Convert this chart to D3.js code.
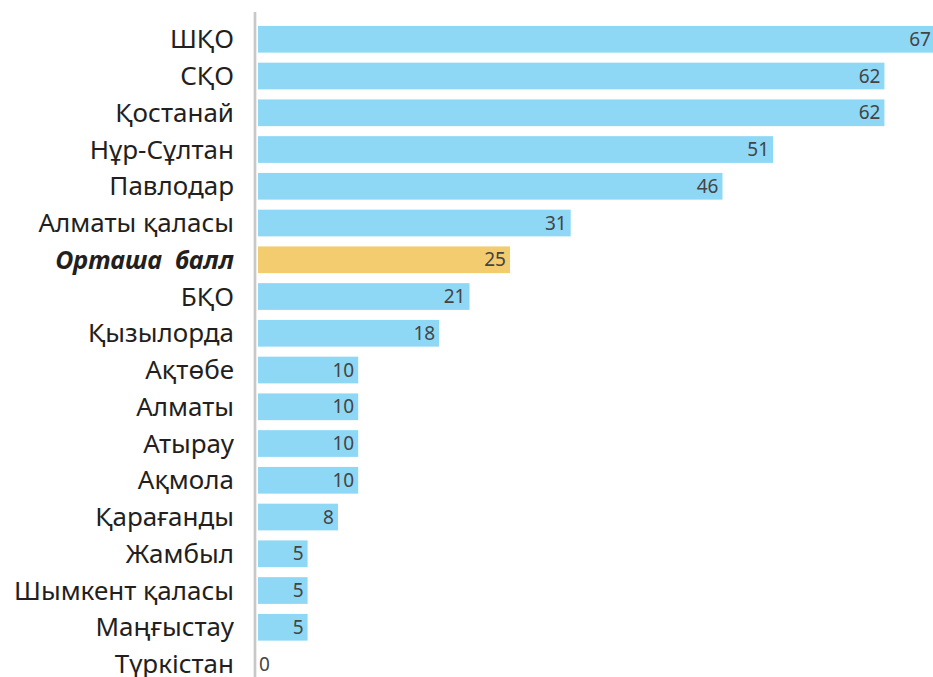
<!DOCTYPE html>
<html>
<head>
<meta charset="utf-8">
<script src="https://cdn.jsdelivr.net/npm/d3@7"></script>
<style>
  body { margin: 0; background: #fff; }
  .label { font-family: "Noto Sans", sans-serif; font-size: 26px; fill: #231f20; }
  .label--avg { font-weight: bold; font-style: italic; font-size: 25px; }
  .value { font-family: "Noto Sans", sans-serif; font-size: 19px; fill: #444; }
</style>
</head>
<body>
<div class="main"></div>
<script>
const regions = ["ШҚО", "СҚО", "Қостанай", "Нұр-Сұлтан", "Павлодар", "Алматы қаласы",
  "Орташа  балл", "БҚО", "Қызылорда", "Ақтөбе", "Алматы", "Атырау", "Ақмола",
  "Қарағанды", "Жамбыл", "Шымкент қаласы", "Маңғыстау", "Түркістан"];
const scores = [67, 62, 62, 51, 46, 31, 25, 21, 18, 10, 10, 10, 10, 8, 5, 5, 5, 0];
const averageLabel = "Орташа  балл";

const svgWidth = 933,
    svgHeight = 677,
    x0 = 257;

let svg = d3.select("body>.main").append("svg")
    .attr("width", svgWidth)
    .attr("height", svgHeight);

let x = d3.scaleLinear().domain([0, 67]).range([x0, x0 + 678]);
let y = d3.scaleBand().domain(regions).range([20.9, 682.4]).paddingInner(0.273).paddingOuter(0.1365);

// bars
svg.append("g").selectAll("rect")
    .data(regions)
  .enter().append("rect")
    .attr("x", x(0) + 1)
    .attr("y", d => y(d))
    .attr("width", (d, i) => Math.max(0, x(scores[i]) - x(0) - 1))
    .attr("height", y.bandwidth())
    .style("fill", d => d === averageLabel ? "#f2cc6f" : "#8ed8f6");

// axis line
svg.append("line")
    .attr("x1", x0 - 2).attr("x2", x0 - 2)
    .attr("y1", 12).attr("y2", svgHeight)
    .style("stroke", "#c8c8c8")
    .style("stroke-width", 2.7);

// category labels
svg.append("g").selectAll("text")
    .data(regions)
  .enter().append("text")
    .attr("class", d => d === averageLabel ? "label label--avg" : "label")
    .attr("x", 234)
    .attr("y", d => y(d) + y.bandwidth() / 2)
    .attr("dy", ".35em")
    .style("text-anchor", "end")
    .style("white-space", "pre")
    .text(d => d);

// value labels
svg.append("g").selectAll("text")
    .data(regions)
  .enter().append("text")
    .attr("class", "value")
    .attr("x", (d, i) => scores[i] === 0 ? x(0) + 2 : x(scores[i]) - 4)
    .attr("y", d => y(d) + y.bandwidth() / 2)
    .attr("dy", ".35em")
    .style("text-anchor", (d, i) => scores[i] === 0 ? "start" : "end")
    .text((d, i) => scores[i]);
</script>
</body>
</html>
